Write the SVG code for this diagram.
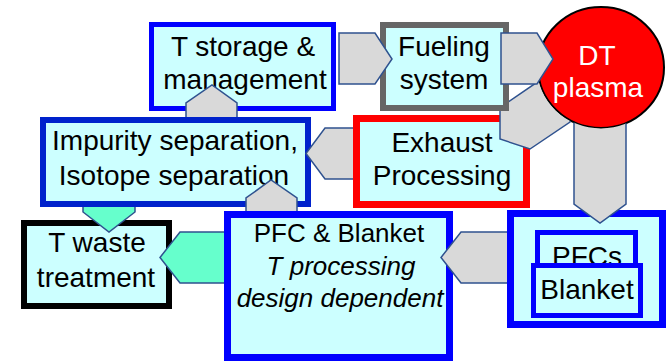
<svg xmlns="http://www.w3.org/2000/svg" width="666" height="361" viewBox="0 0 666 361">
<style>
.box{fill:#CCFFFF}
.t{font-family:"Liberation Sans",Arial,sans-serif;font-size:28px;fill:#000;text-anchor:middle}
.s{font-size:26px}
.i{font-style:italic}
.w{fill:#FFFFFF}
.ar{fill:#D9D9D9;stroke:#2F528F;stroke-width:1.5;stroke-linejoin:miter}
.gr{fill:#66FFCC;stroke:#2F528F;stroke-width:1.5}
</style>
<defs>
<clipPath id="noCircle">
<path clip-rule="evenodd" d="M0,0 H666 V361 H0 Z M380,22 H509 V111 H380 Z M537,67.5 a64,61 0 1,0 128,0 a64,61 0 1,0 -128,0 Z"/>
</clipPath>
</defs>
<rect width="666" height="361" fill="#FFFFFF"/>
<g id="t-storage">
<rect class="box" x="151.5" y="24.5" width="182" height="84" stroke="#0000FF" stroke-width="5"/>
<text class="t" x="243" y="56">T storage &amp;</text>
<text class="t" x="245" y="89">management</text>
</g>
<g id="t-waste">
<rect class="box" x="24" y="223" width="145" height="83" stroke="#000000" stroke-width="6"/>
<text class="t" x="97" y="252">T waste</text>
<text class="t" x="96" y="287">treatment</text>
</g>
<g id="impurity">
<rect class="box" x="43" y="120" width="265" height="84" stroke="#0022CC" stroke-width="6"/>
<text class="t" x="175" y="150">Impurity separation,</text>
<text class="t" x="174" y="185">Isotope separation</text>
</g>
<g id="exhaust">
<rect class="box" x="356.5" y="118.5" width="170" height="86" stroke="#FF0000" stroke-width="7"/>
<text class="t" x="442" y="152">Exhaust</text>
<text class="t" x="442" y="185">Processing</text>
</g>
<g id="fueling">
<rect class="box" x="383" y="25" width="123" height="83" stroke="#666666" stroke-width="6"/>
<text class="t" x="444" y="56">Fueling</text>
<text class="t" x="444" y="89">system</text>
</g>
<g id="pfc-blanket">
<rect class="box" x="227.5" y="214.5" width="222" height="143" stroke="#0000FF" stroke-width="7"/>
<text class="t s" x="339" y="242">PFC &amp; Blanket</text>
<text class="t s i" x="341" y="275">T processing</text>
<text class="t s i" x="340" y="307">design dependent</text>
</g>
<g id="pfcs-container">
<rect class="box" x="510.5" y="213.5" width="152" height="111" stroke="#0000FF" stroke-width="7"/>
</g>
<g id="pfcs">
<rect class="box" x="537.5" y="232.5" width="98" height="40" stroke="#0000FF" stroke-width="5"/>
<text class="t" x="587" y="266">PFCs</text>
</g>
<g id="blanket">
<rect class="box" x="533.5" y="265.5" width="107" height="50" stroke="#0000FF" stroke-width="5"/>
<text class="t" x="587" y="299">Blanket</text>
</g>
<g id="dt-plasma">
<ellipse cx="601" cy="67.5" rx="63" ry="60.5" fill="#FF0000" stroke="#000000" stroke-width="2"/>
<text class="t w" x="597" y="65">DT</text>
<text class="t w" x="598" y="97">plasma</text>
</g>
<g id="connectors">
<path class="ar" d="M186,117 V103 L212,85 L237,103 V117"/>
<path class="gr" d="M83,207 V212 L109,232 L135,212 V207"/>
<path class="ar" d="M353,128 H325 L306,153.5 L325,179 H353"/>
<path class="ar" d="M246,211 V198 L271,180 L297,198 V211"/>
<path class="gr" d="M224,232 H180 L160,257.5 L180,283 H224"/>
<path class="ar" d="M507,232 H461 L441,257.5 L461,283 H507"/>
<path class="ar" clip-path="url(#noCircle)" d="M500,107.5 L545,76.8 L590,65 L570,122 L530,149 L500,139 Z"/>
<path class="ar" clip-path="url(#noCircle)" d="M574,100 V204 L600,223 L626,204 V100"/>
<path class="ar" d="M339,33 H375 L392,59 L375,84 H339 Z"/>
<path class="ar" d="M501,33 H537 L553,59 L537,84 H501 Z"/>
</g>
</svg>
